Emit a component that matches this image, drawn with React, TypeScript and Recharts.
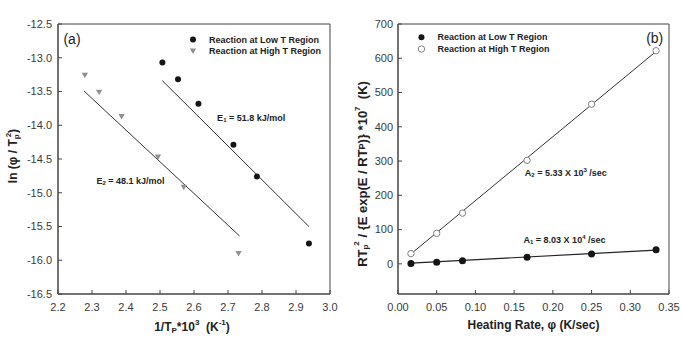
import React from 'react';
import {
  ComposedChart,
  Scatter,
  Line,
  XAxis,
  YAxis,
  ReferenceArea,
  ReferenceDot,
  Label,
} from 'recharts';

const FONT = '"Liberation Sans", Arial, Helvetica, sans-serif';

// ---------- Panel (a) data ----------
const invTpLowA = [2.507, 2.553, 2.613, 2.716, 2.785, 2.938];
const lnLowA = [-13.07, -13.32, -13.68, -14.29, -14.76, -15.75];
const invTpHighA = [2.279, 2.321, 2.387, 2.494, 2.57, 2.731];
const lnHighA = [-13.26, -13.51, -13.87, -14.47, -14.92, -15.9];
const fitLowAX = [2.507, 2.938];
const fitLowAY = [-13.34, -15.5];
const fitHighAX = [2.276, 2.734];
const fitHighAY = [-13.49, -15.64];
const xTicksA = [2.2, 2.3, 2.4, 2.5, 2.6, 2.7, 2.8, 2.9, 3.0];
const yTicksA = [-16.5, -16.0, -15.5, -15.0, -14.5, -14.0, -13.5, -13.0, -12.5];

// ---------- Panel (b) data ----------
const heatingRate = [0.0167, 0.05, 0.0833, 0.1667, 0.25, 0.3333];
const rtLowB = [1, 5, 9, 19, 29, 41];
const rtHighB = [30, 89, 148, 302, 466, 622];
const fitLowBX = [0.0167, 0.3333];
const fitLowBY = [2, 40];
const fitHighBX = [0.0167, 0.3333];
const fitHighBY = [29, 620];
const xTicksB = [0, 0.05, 0.1, 0.15, 0.2, 0.25, 0.3, 0.35];
const yTicksB = [0, 100, 200, 300, 400, 500, 600, 700];

const zip = (xs: number[], ys: number[]) => xs.map((x, i) => ({ x, y: ys[i] }));

const ptsLowA = zip(invTpLowA, lnLowA);
const ptsHighA = zip(invTpHighA, lnHighA);
const lineLowA = zip(fitLowAX, fitLowAY);
const lineHighA = zip(fitHighAX, fitHighAY);
const ptsLowB = zip(heatingRate, rtLowB);
const ptsHighB = zip(heatingRate, rtHighB);
const lineLowB = zip(fitLowBX, fitLowBY);
const lineHighB = zip(fitHighBX, fitHighBY);

const AX = '#444';
const TICK = { fontSize: 11, fill: '#3a3a3a', fontFamily: FONT };

const filledCircle = (r: number) => (p: any) => (
  <circle cx={p.cx} cy={p.cy} r={r} fill="#151515" />
);
const openCircle = (p: any) => (
  <circle cx={p.cx} cy={p.cy} r={3.2} fill="#fff" stroke="#808080" strokeWidth={1} />
);
const triDown = (p: any) => (
  <path
    d={`M${p.cx - 3.2},${p.cy - 2.5} L${p.cx + 3.2},${p.cy - 2.5} L${p.cx},${p.cy + 2.9} Z`}
    fill="#909090"
  />
);

const textShape =
  (content: React.ReactNode, anchor: 'start' | 'end' | 'middle' = 'start', size = 9, weight: any = 'bold') =>
  (p: any) => (
    <text
      x={p.cx}
      y={p.cy}
      textAnchor={anchor}
      dominantBaseline="central"
      fontFamily={FONT}
      fontSize={size}
      fontWeight={weight}
      fill="#222"
    >
      {content}
    </text>
  );

const legendItem = (marker: (p: any) => React.ReactNode, label: string) => (p: any) => (
  <g>
    {marker({ cx: p.cx, cy: p.cy })}
    <text
      x={p.cx + 16}
      y={p.cy}
      dominantBaseline="central"
      fontFamily={FONT}
      fontSize={9}
      fontWeight="bold"
      fill="#222"
    >
      {label}
    </text>
  </g>
);

const xTitleA = (props: any) => {
  const vb = props.viewBox;
  const cx = vb.x + vb.width / 2 - 2;
  const cy = vb.y + 33;
  return (
    <text x={cx} y={cy} textAnchor="middle" dominantBaseline="central" fontFamily={FONT} fontSize={12} fontWeight="bold" fill="#222">
      1/T
      <tspan fontSize={8} dy={3}>P</tspan>
      <tspan dy={-3}>*10</tspan>
      <tspan fontSize={8} dy={-5}>3</tspan>
      <tspan dy={5}>{'\u00a0\u00a0(K'}</tspan>
      <tspan fontSize={8} dy={-5}>-1</tspan>
      <tspan dy={5}>)</tspan>
    </text>
  );
};

const yTitleA = (props: any) => {
  const vb = props.viewBox;
  const cx = vb.x + 13;
  const cy = vb.y + vb.height / 2 - 3;
  return (
    <text
      x={cx}
      y={cy}
      transform={`rotate(-90, ${cx}, ${cy})`}
      textAnchor="middle"
      dominantBaseline="central"
      fontFamily={FONT}
      fontSize={12}
      fontWeight="bold"
      fill="#222"
    >
      ln (φ / T
      <tspan fontSize={8} dy={3}>p</tspan>
      <tspan fontSize={8} dy={-8} dx={-3}>2</tspan>
      <tspan dy={5}>)</tspan>
    </text>
  );
};

const xTitleB = (props: any) => {
  const vb = props.viewBox;
  const cx = vb.x + vb.width / 2;
  const cy = vb.y + 31;
  return (
    <text x={cx} y={cy} textAnchor="middle" dominantBaseline="central" fontFamily={FONT} fontSize={12} fontWeight="bold" fill="#222">
      Heating Rate, φ (K/sec)
    </text>
  );
};

const yTitleB = (props: any) => {
  const vb = props.viewBox;
  const cx = vb.x + 21;
  const cy = vb.y + vb.height / 2 + 15;
  return (
    <text
      x={cx}
      y={cy}
      transform={`rotate(-90, ${cx}, ${cy})`}
      textAnchor="middle"
      dominantBaseline="central"
      fontFamily={FONT}
      fontSize={13}
      fontWeight="bold"
      fill="#222"
    >
      RT
      <tspan fontSize={8} dy={3}>p</tspan>
      <tspan fontSize={8} dy={-9} dx={-1}>2</tspan>
      <tspan dy={6}>{'\u00a0/ {E exp(E / RT'}</tspan>
      <tspan fontSize={9}>P</tspan>
      <tspan>{')} *10'}</tspan>
      <tspan fontSize={8} dy={-5}>7</tspan>
      <tspan dy={5}>{'\u00a0\u00a0(K)'}</tspan>
    </text>
  );
};

const E1 = (
  <>
    E<tspan fontSize={6} dy={2}>1</tspan>
    <tspan dy={-2}> = 51.8 kJ/mol</tspan>
  </>
);
const E2 = (
  <>
    E<tspan fontSize={6} dy={2}>2</tspan>
    <tspan dy={-2}> = 48.1 kJ/mol</tspan>
  </>
);
const A2 = (
  <>
    A<tspan fontSize={6} dy={2}>2</tspan>
    <tspan dy={-2}> = 5.33 X 10</tspan>
    <tspan fontSize={6} dy={-3}>3</tspan>
    <tspan dy={3}> /sec</tspan>
  </>
);
const A1 = (
  <>
    A<tspan fontSize={6} dy={2}>1</tspan>
    <tspan dy={-2}> = 8.03 X 10</tspan>
    <tspan fontSize={6} dy={-3}>4</tspan>
    <tspan dy={3}> /sec</tspan>
  </>
);

function PanelA() {
  return (
    <ComposedChart width={341} height={337} margin={{ top: 24, right: 11, left: 0, bottom: 0 }}>
      <XAxis
        type="number"
        dataKey="x"
        domain={[2.2, 3.0]}
        ticks={xTicksA}
        interval={0}
        tickFormatter={(v: number) => v.toFixed(1)}
        tick={TICK}
        tickSize={-4}
        tickMargin={13}
        axisLine={{ stroke: AX }}
        tickLine={{ stroke: AX }}
        height={43}
        allowDataOverflow
      >
        <Label content={xTitleA} />
      </XAxis>
      <YAxis
        type="number"
        dataKey="y"
        domain={[-16.5, -12.5]}
        ticks={yTicksA}
        interval={0}
        tickFormatter={(v: number) => v.toFixed(1)}
        tick={TICK}
        tickSize={-4}
        tickMargin={10}
        axisLine={{ stroke: AX }}
        tickLine={{ stroke: AX }}
        width={58}
        allowDataOverflow
      >
        <Label content={yTitleA} />
      </YAxis>
      <ReferenceArea x1={2.2} x2={3.0} y1={-16.5} y2={-12.5} fill="none" stroke={AX} strokeWidth={1} ifOverflow="visible" />
      <Line data={lineLowA} dataKey="y" stroke="#333" strokeWidth={1} dot={false} isAnimationActive={false} />
      <Line data={lineHighA} dataKey="y" stroke="#333" strokeWidth={1} dot={false} isAnimationActive={false} />
      <Scatter data={ptsLowA} dataKey="y" shape={filledCircle(3)} isAnimationActive={false} />
      <Scatter data={ptsHighA} dataKey="y" shape={triDown} isAnimationActive={false} />
      <ReferenceDot x={2.216} y={-12.72} shape={textShape('(a)', 'start', 14, 'normal')} ifOverflow="visible" />
      <ReferenceDot x={2.597} y={-12.73} shape={legendItem(filledCircle(3), 'Reaction at Low T Region')} ifOverflow="visible" />
      <ReferenceDot x={2.597} y={-12.9} shape={legendItem(triDown, 'Reaction at High T Region')} ifOverflow="visible" />
      <ReferenceDot x={2.668} y={-13.89} shape={textShape(E1)} ifOverflow="visible" />
      <ReferenceDot x={2.313} y={-14.82} shape={textShape(E2)} ifOverflow="visible" />
    </ComposedChart>
  );
}

function PanelB() {
  return (
    <ComposedChart width={341} height={337} margin={{ top: 24, right: 13, left: 0, bottom: 0 }}>
      <XAxis
        type="number"
        dataKey="x"
        domain={[0, 0.35]}
        ticks={xTicksB}
        interval={0}
        tickFormatter={(v: number) => v.toFixed(2)}
        tick={TICK}
        tickSize={-4}
        tickMargin={13}
        axisLine={{ stroke: AX }}
        tickLine={{ stroke: AX }}
        height={43}
        allowDataOverflow
      >
        <Label content={xTitleB} />
      </XAxis>
      <YAxis
        type="number"
        dataKey="y"
        domain={[-88, 700]}
        ticks={yTicksB}
        interval={0}
        tick={TICK}
        tickSize={-4}
        tickMargin={9}
        axisLine={{ stroke: AX }}
        tickLine={{ stroke: AX }}
        width={57}
        allowDataOverflow
      >
        <Label content={yTitleB} />
      </YAxis>
      <ReferenceArea x1={0} x2={0.35} y1={-88} y2={700} fill="none" stroke={AX} strokeWidth={1} ifOverflow="visible" />
      <Line data={lineLowB} dataKey="y" stroke="#222" strokeWidth={1.2} dot={false} isAnimationActive={false} />
      <Line data={lineHighB} dataKey="y" stroke="#333" strokeWidth={1} dot={false} isAnimationActive={false} />
      <Scatter data={ptsLowB} dataKey="y" shape={filledCircle(3.5)} isAnimationActive={false} />
      <Scatter data={ptsHighB} dataKey="y" shape={openCircle} isAnimationActive={false} />
      <ReferenceDot x={0.3426} y={660} shape={textShape('(b)', 'end', 14, 'normal')} ifOverflow="visible" />
      <ReferenceDot x={0.0303} y={661} shape={legendItem(filledCircle(3), 'Reaction at Low T Region')} ifOverflow="visible" />
      <ReferenceDot x={0.0303} y={627} shape={legendItem(openCircle, 'Reaction at High T Region')} ifOverflow="visible" />
      <ReferenceDot x={0.1638} y={265} shape={textShape(A2)} ifOverflow="visible" />
      <ReferenceDot x={0.1621} y={71} shape={textShape(A1)} ifOverflow="visible" />
    </ComposedChart>
  );
}

export default function App() {
  return (
    <div
      style={{
        position: 'absolute',
        left: 0,
        top: 0,
        width: 682,
        height: 337,
        background: '#fff',
        display: 'flex',
        fontFamily: FONT,
      }}
    >
      <PanelA />
      <PanelB />
    </div>
  );
}
